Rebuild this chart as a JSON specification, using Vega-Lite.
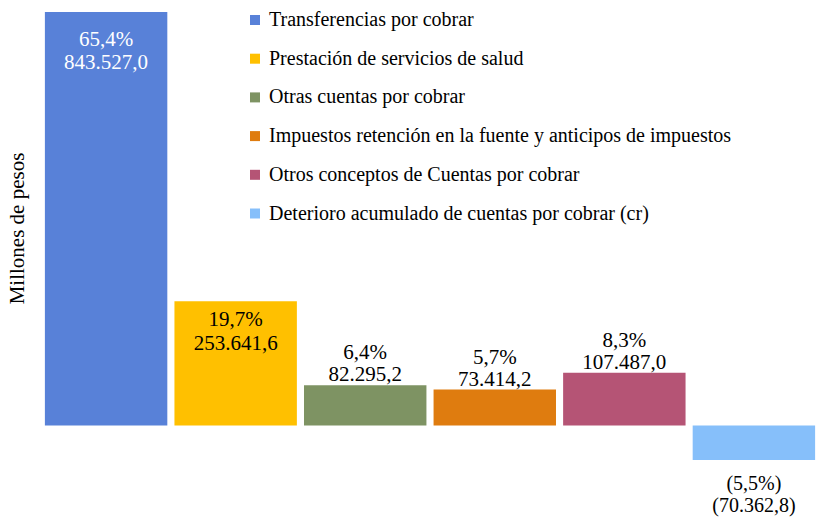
{
  "$schema": "https://vega.github.io/schema/vega-lite/v6.json",
  "width": 778,
  "height": 448,
  "autosize": {"type": "none"},
  "padding": {"left": 41, "top": 12, "right": 0, "bottom": 58},
  "background": "#ffffff",
  "config": {
    "view": {"stroke": null},
    "font": "Times New Roman, Liberation Serif, serif",
    "text": {"font": "Times New Roman, Liberation Serif, serif"}
  },
  "data": {
    "values": [
      {"cat": "Transferencias por cobrar", "value": 843527.0, "pct": "65,4%", "lbl": "843.527,0"},
      {"cat": "Prestación de servicios de salud", "value": 253641.6, "pct": "19,7%", "lbl": "253.641,6"},
      {"cat": "Otras cuentas por cobrar", "value": 82295.2, "pct": "6,4%", "lbl": "82.295,2"},
      {"cat": "Impuestos retención en la fuente y anticipos de impuestos", "value": 73414.2, "pct": "5,7%", "lbl": "73.414,2"},
      {"cat": "Otros conceptos de Cuentas por cobrar", "value": 107487.0, "pct": "8,3%", "lbl": "107.487,0"},
      {"cat": "Deterioro acumulado de cuentas por cobrar (cr)", "value": -70362.8, "pct": "(5,5%)", "lbl": "(70.362,8)"}
    ]
  },
  "encoding": {
    "x": {
      "field": "cat", "type": "nominal", "sort": null,
      "scale": {"paddingInner": 0.055, "paddingOuter": 0.03},
      "axis": null
    },
    "y": {
      "field": "value", "type": "quantitative",
      "scale": {"domain": [-70362.8, 843527], "nice": false, "zero": true},
      "axis": {
        "title": "Millones  de pesos",
        "titleFont": "Times New Roman, Liberation Serif, serif",
        "titleFontSize": 21,
        "titleFontWeight": "normal",
        "titleColor": "#000000",
        "titleX": -24,
        "titleY": 216,
        "titleBaseline": "middle",
        "labels": false, "ticks": false, "domain": false, "grid": false
      }
    }
  },
  "layer": [
    {
      "mark": {"type": "bar"},
      "encoding": {
        "color": {
          "field": "cat", "type": "nominal", "sort": null,
          "scale": {
            "domain": [
              "Transferencias por cobrar",
              "Prestación de servicios de salud",
              "Otras cuentas por cobrar",
              "Impuestos retención en la fuente y anticipos de impuestos",
              "Otros conceptos de Cuentas por cobrar",
              "Deterioro acumulado de cuentas por cobrar (cr)"
            ],
            "range": ["#5881D8", "#FFC000", "#7E9363", "#DF7C0F", "#B55475", "#86BFFA"]
          },
          "legend": {
            "title": null,
            "orient": "none",
            "legendX": 204,
            "legendY": -2,
            "symbolType": "square",
            "symbolSize": 100,
            "symbolStrokeWidth": 0,
            "labelFont": "Times New Roman, Liberation Serif, serif",
            "labelFontSize": 20,
            "labelColor": "#000000",
            "labelLimit": 600,
            "labelOffset": 4,
            "rowPadding": 18.7
          }
        }
      }
    },
    {
      "transform": [{"filter": "datum.cat === 'Transferencias por cobrar'"}],
      "mark": {"type": "text", "baseline": "middle", "align": "center", "fontSize": 21, "color": "#ffffff", "dy": 28},
      "encoding": {"text": {"field": "pct"}}
    },
    {
      "transform": [{"filter": "datum.cat === 'Transferencias por cobrar'"}],
      "mark": {"type": "text", "baseline": "middle", "align": "center", "fontSize": 21, "color": "#ffffff", "dy": 51},
      "encoding": {"text": {"field": "lbl"}}
    },
    {
      "transform": [{"filter": "datum.cat === 'Prestación de servicios de salud'"}],
      "mark": {"type": "text", "baseline": "middle", "align": "center", "fontSize": 21, "color": "#000000", "dy": 19},
      "encoding": {"text": {"field": "pct"}}
    },
    {
      "transform": [{"filter": "datum.cat === 'Prestación de servicios de salud'"}],
      "mark": {"type": "text", "baseline": "middle", "align": "center", "fontSize": 21, "color": "#000000", "dy": 43},
      "encoding": {"text": {"field": "lbl"}}
    },
    {
      "transform": [{"filter": "datum.value > 0 && datum.value < 200000"}],
      "mark": {"type": "text", "baseline": "middle", "align": "center", "fontSize": 21, "color": "#000000", "dy": -32},
      "encoding": {"text": {"field": "pct"}}
    },
    {
      "transform": [{"filter": "datum.value > 0 && datum.value < 200000"}],
      "mark": {"type": "text", "baseline": "middle", "align": "center", "fontSize": 21, "color": "#000000", "dy": -10},
      "encoding": {"text": {"field": "lbl"}}
    },
    {
      "transform": [{"filter": "datum.value < 0"}],
      "mark": {"type": "text", "baseline": "middle", "align": "center", "fontSize": 20, "color": "#000000", "dy": 24},
      "encoding": {"text": {"field": "pct"}}
    },
    {
      "transform": [{"filter": "datum.value < 0"}],
      "mark": {"type": "text", "baseline": "middle", "align": "center", "fontSize": 20, "color": "#000000", "dy": 46},
      "encoding": {"text": {"field": "lbl"}}
    }
  ]
}
